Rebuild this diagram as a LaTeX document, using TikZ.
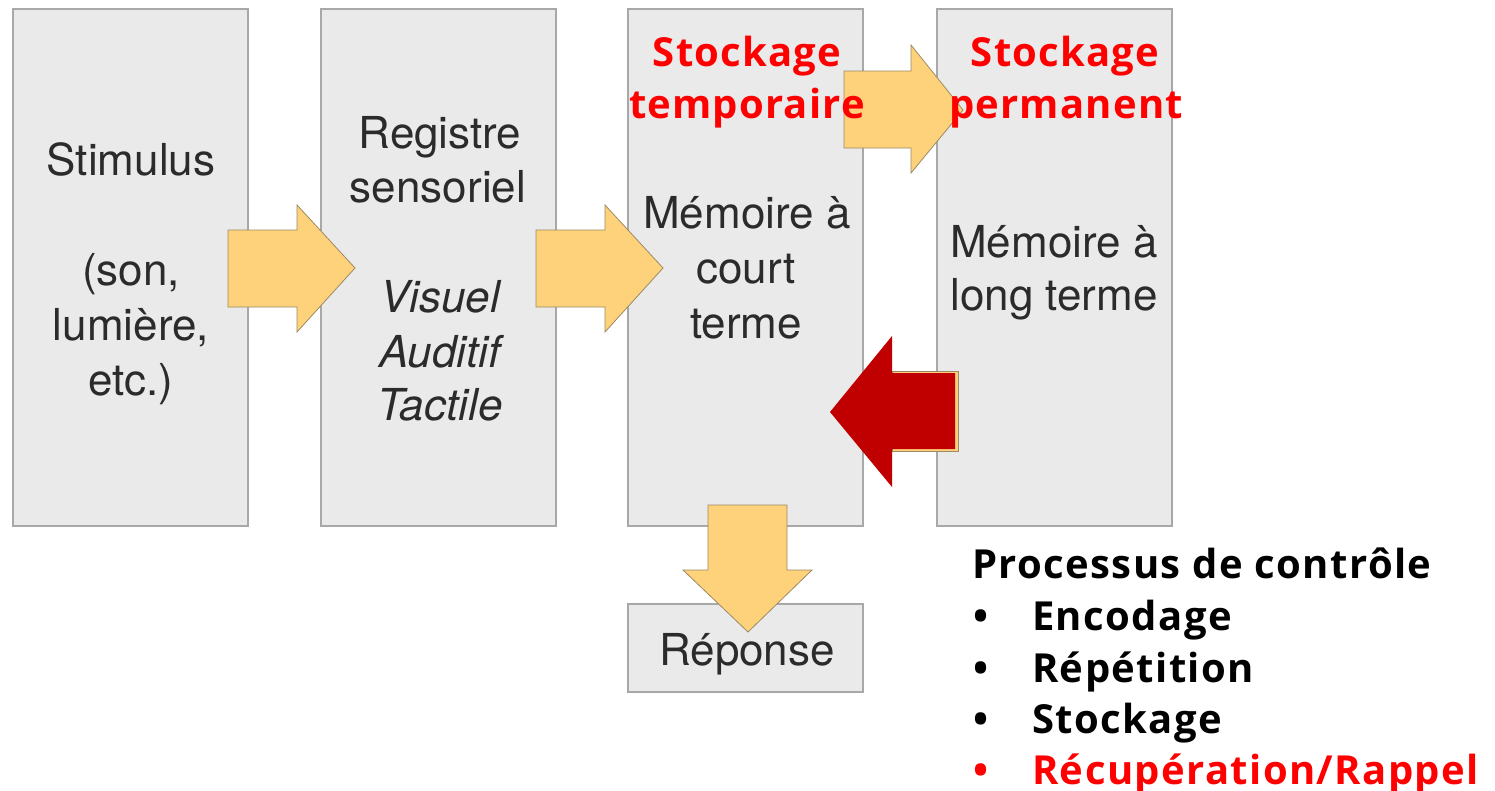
\documentclass[tikz,border=0pt]{standalone}
\usepackage{fontspec}
\setmainfont{TeX Gyre Heros}
\newfontfamily\boldsans{Open Sans}[BoldFont={* Bold}]
\definecolor{boxfill}{HTML}{EAEAEA}
\definecolor{boxline}{HTML}{A8A8A8}
\definecolor{arrowfill}{HTML}{FDD27A}
\definecolor{arrowline}{HTML}{9C8A66}
\definecolor{recallred}{HTML}{C00000}
\definecolor{labelred}{HTML}{FF0000}
\definecolor{boxtext}{HTML}{2B2B2B}
\begin{document}
\begin{tikzpicture}[x=1pt,y=-1pt,
  stage/.style={draw=boxline,line width=2pt,fill=boxfill,minimum width=235pt,inner sep=0pt},
  blockarrow/.style={fill=arrowfill,draw=arrowline,line width=0.8pt,line join=miter},
  boxlabel/.style={anchor=base,inner sep=0pt,text=boxtext,font=\fontsize{44}{52}\selectfont},
  slanted/.style={boxlabel,font=\itshape\fontsize{44}{52}\selectfont},
  redlabel/.style={anchor=base,inner sep=0pt,text=labelred,
    font=\boldsans\bfseries\fontsize{40}{48}\selectfont\addfontfeature{LetterSpace=3}},
  listtext/.style={anchor=base west,inner sep=0pt,
    font=\boldsans\bfseries\fontsize{40}{48}\selectfont\addfontfeature{LetterSpace=3.5}}]
\useasboundingbox (0,0) rectangle (1495,790);

% memory stages
\node[stage,minimum height=517pt] (stim) at (130.5,267.5) {};
\node[stage,minimum height=517pt] (sens) at (438,267.5) {};
\node[stage,minimum height=517pt] (mct) at (745.5,267.5) {};
\node[stage,minimum height=517pt] (mlt) at (1054,267.5) {};
\node[stage,minimum height=88pt] (rep) at (745.5,648) {};

% forward arrows
\draw[blockarrow] (228,230) -- (297,230) -- (297,205) -- (355,268) -- (297,332) -- (297,307) -- (228,307) -- cycle;
\draw[blockarrow] (536,230) -- (605,230) -- (605,205) -- (663,268) -- (605,332) -- (605,307) -- (536,307) -- cycle;
\draw[blockarrow] (844,71) -- (911,71) -- (911,45) -- (963,110) -- (911,173) -- (911,148) -- (844,148) -- cycle;
\draw[blockarrow] (708,505) -- (787,505) -- (787,570) -- (812,570) -- (748,632) -- (683,570) -- (708,570) -- cycle;

% retrieval arrow, long term back to short term
\draw[blockarrow] (892,371) rectangle (958,451);
\fill[recallred] (955,373) -- (892,373) -- (892,336) -- (830,412) -- (892,487) -- (892,449) -- (955,449) -- cycle;

% stage texts
\node[boxlabel] (t1a) at (131,175) {Stimulus};
\node[boxlabel] (t1b) at (131,285) {(son,};
\node[boxlabel] (t1c) at (131,340) {lumière,};
\node[boxlabel] (t1d) at (131,395) {etc.)};

\node[boxlabel] (t2a) at (440,148) {Registre};
\node[boxlabel] (t2b) at (438,202) {sensoriel};
\node[slanted] (t2c) at (440,312) {Visuel};
\node[slanted] (t2d) at (440,367) {Auditif};
\node[slanted] (t2e) at (440,420) {Tactile};

\node[boxlabel] (t3a) at (747,228) {Mémoire à};
\node[boxlabel] (t3b) at (746,283) {court};
\node[boxlabel] (t3c) at (746,338) {terme};

\node[boxlabel] (t4a) at (1054,257) {Mémoire à};
\node[boxlabel] (t4b) at (1054,310) {long terme};

\node[boxlabel] (t5) at (747,665) {Réponse};

% storage labels
\node[redlabel] (s1a) at (747,66) {Stockage};
\node[redlabel] (s1b) at (747,118) {temporaire};
\node[redlabel] (s2a) at (1065,66) {Stockage};
\node[redlabel] (s2b) at (1066,118) {permanent};

% control processes
\node[listtext] (ctl) at (972,578) {Processus de contrôle};
\node[listtext] (b1) at (973,630) {•};
\node[listtext] (l1) at (1032,630) {Encodage};
\node[listtext] (b2) at (973,682) {•};
\node[listtext] (l2) at (1032,682) {Répétition};
\node[listtext] (b3) at (973,733) {•};
\node[listtext] (l3) at (1032,733) {Stockage};
\node[listtext,text=labelred] (b4) at (973,784) {•};
\node[listtext,text=labelred] (l4) at (1032,784) {Récupération/Rappel};
\end{tikzpicture}
\end{document}
